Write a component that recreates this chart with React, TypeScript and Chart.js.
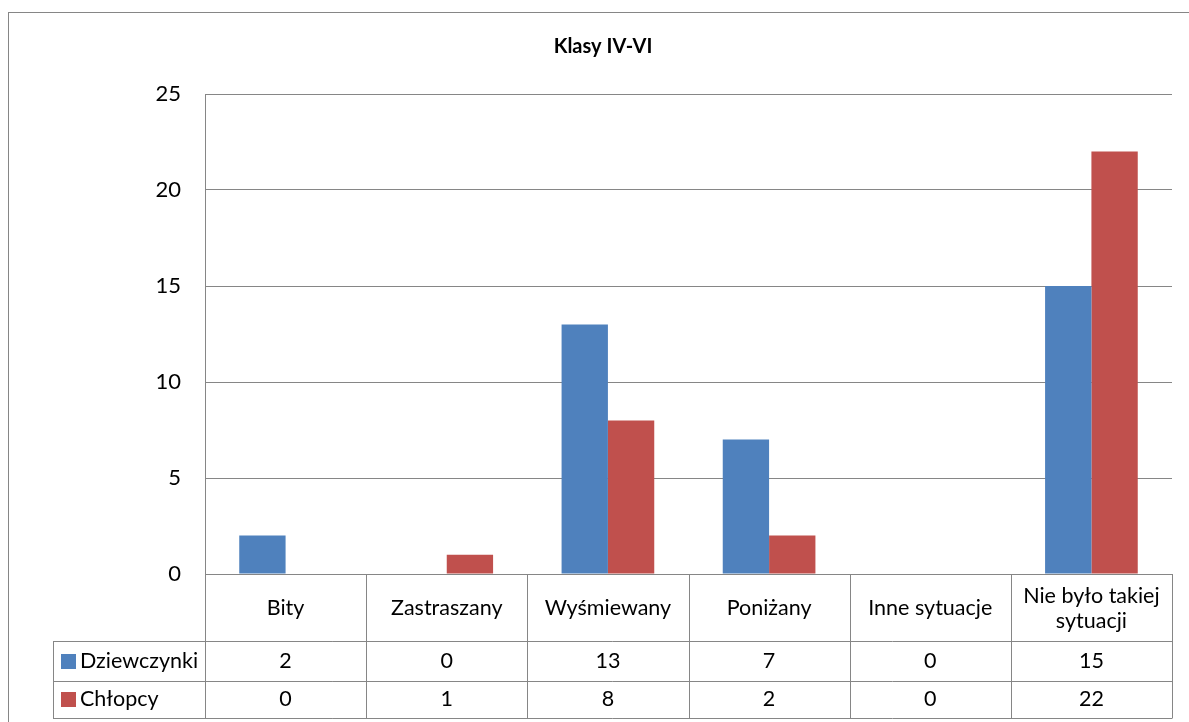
import React, { useEffect, useRef } from "react";
import { Chart, registerables } from "chart.js";

Chart.register(...registerables);

const chartTitle = "Klasy IV-VI";
const categories: (string | string[])[] = [
  "Bity",
  "Zastraszany",
  "Wyśmiewany",
  "Poniżany",
  "Inne sytuacje",
  ["Nie było takiej", "sytuacji"],
];
const seriesNames = ["Dziewczynki", "Chłopcy"];
const girls = [2, 0, 13, 7, 0, 15];
const boys = [0, 1, 8, 2, 0, 22];
const yMin = 0;
const yMax = 25;
const yStep = 5;
const seriesColors = ["#4F81BD", "#C0504D"];

const FONT = "Lato, 'Open Sans', sans-serif";
const LINE = "#868686";

const tablePlugin = {
  id: "excelTable",
  afterDraw(chart: any) {
    const ctx: CanvasRenderingContext2D = chart.ctx;
    const area = chart.chartArea;
    const x = chart.scales.x;
    const n = categories.length;
    const cw = (area.right - area.left) / n;
    const top = area.bottom;
    const headerBottom = top + 67;
    const row1Bottom = headerBottom + 40;
    const row2Bottom = row1Bottom + 37;
    const legendLeft = 53;

    ctx.save();
    // outer frame
    ctx.strokeStyle = LINE;
    ctx.lineWidth = 1;
    ctx.strokeRect(8.5, 12.5, 1240, 760);

    // title
    ctx.fillStyle = "#000";
    ctx.font = `bold 20px ${FONT}`;
    ctx.textAlign = "center";
    ctx.textBaseline = "middle";
    ctx.fillText(chartTitle, 603, 47);

    // table lines
    ctx.beginPath();
    for (let i = 0; i <= n; i++) {
      const px = Math.round(area.left + i * cw) + 0.5;
      ctx.moveTo(px, top);
      ctx.lineTo(px, row2Bottom);
    }
    [headerBottom, row1Bottom, row2Bottom].forEach((yy) => {
      ctx.moveTo(legendLeft, yy + 0.5);
      ctx.lineTo(area.right + 0.5, yy + 0.5);
    });
    ctx.moveTo(legendLeft + 0.5, headerBottom);
    ctx.lineTo(legendLeft + 0.5, row2Bottom + 0.5);
    ctx.stroke();

    // header labels
    ctx.font = `21.5px ${FONT}`;
    ctx.fillStyle = "#000";
    categories.forEach((c, i) => {
      const cx = x.getPixelForValue(i);
      const lines = Array.isArray(c) ? c : [c];
      const lh = 25;
      const cy = (top + headerBottom) / 2 + 1;
      lines.forEach((ln, k) => {
        ctx.fillText(ln, cx, cy + (k - (lines.length - 1) / 2) * lh);
      });
    });

    // value rows
    const rows = [girls, boys];
    const rowCenters = [(headerBottom + row1Bottom) / 2, (row1Bottom + row2Bottom) / 2];
    rows.forEach((vals, r) => {
      vals.forEach((v, i) => {
        ctx.fillText(String(v), x.getPixelForValue(i), rowCenters[r]);
      });
      // legend key
      ctx.fillStyle = seriesColors[r];
      ctx.fillRect(61, Math.round(rowCenters[r] - 7.5), 15, 15);
      ctx.fillStyle = "#000";
      ctx.textAlign = "left";
      ctx.fillText(seriesNames[r], 80, rowCenters[r]);
      ctx.textAlign = "center";
    });
    ctx.restore();
  },
};

export default function App() {
  const ref = useRef<HTMLCanvasElement>(null);
  useEffect(() => {
    if (!ref.current) return;
    const chart = new Chart(ref.current, {
      type: "bar",
      data: {
        labels: categories as any,
        datasets: [
          {
            label: seriesNames[0],
            data: girls,
            backgroundColor: seriesColors[0],
            borderWidth: 0,
          },
          {
            label: seriesNames[1],
            data: boys,
            backgroundColor: seriesColors[1],
            borderWidth: 0,
          },
        ],
      },
      options: {
        animation: false,
        responsive: false,
        devicePixelRatio: 1,
        layout: { padding: { top: 94, right: 17, bottom: 148, left: 0 } },
        datasets: { bar: { categoryPercentage: 0.575, barPercentage: 1 } },
        plugins: {
          legend: { display: false },
          title: { display: false },
          tooltip: { enabled: false },
        },
        scales: {
          x: { display: false },
          y: {
            min: yMin,
            max: yMax,
            ticks: {
              stepSize: yStep,
              padding: 24,
              color: "#000",
              font: { family: FONT, size: 22 },
            },
            grid: { color: LINE, drawTicks: false, lineWidth: 1 },
            border: { display: true, color: LINE, width: 1 },
            afterFit(scale: any) {
              scale.width = 205;
            },
          },
        },
      },
      plugins: [tablePlugin],
    });
    return () => chart.destroy();
  }, []);
  return (
    <div style={{ position: "fixed", left: 0, top: 0, width: 1189, height: 722, background: "#fff" }}>
      <canvas ref={ref} width={1189} height={722} style={{ display: "block" }} />
    </div>
  );
}
